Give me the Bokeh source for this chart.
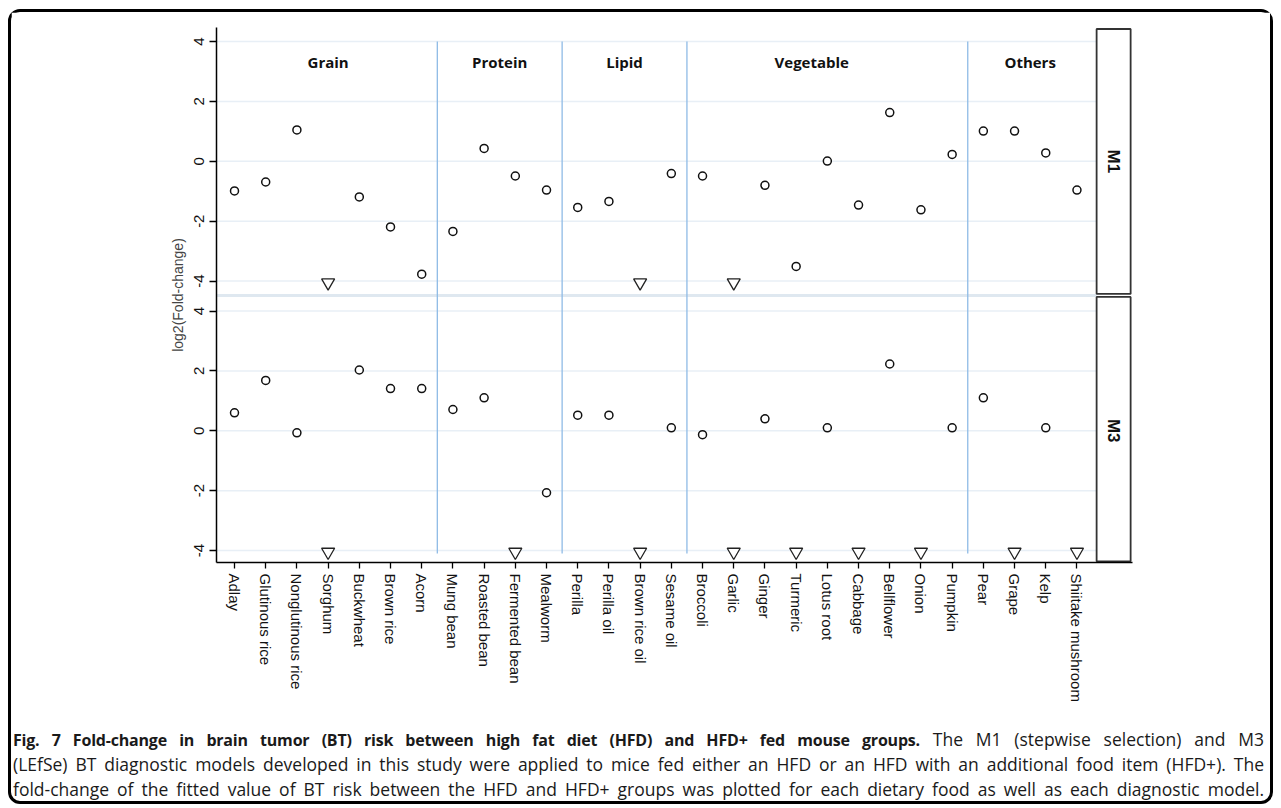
import numpy as np
from bokeh.plotting import figure
from bokeh.models import FixedTicker, Range1d, Div
from bokeh.layouts import column
from bokeh.core.properties import value
from bokeh.embed import file_html
from bokeh.resources import INLINE

# ---------------- data ----------------
foods = ["Adlay", "Glutinous rice", "Nonglutinous rice", "Sorghum", "Buckwheat", "Brown rice", "Acorn",
         "Mung bean", "Roasted bean", "Fermented bean", "Mealworm",
         "Perilla", "Perilla oil", "Brown rice oil", "Sesame oil",
         "Broccoli", "Garlic", "Ginger", "Turmeric", "Lotus root", "Cabbage", "Bellflower", "Onion", "Pumpkin",
         "Pear", "Grape", "Kelp", "Shiitake mushroom"]
groups = ["Grain", "Protein", "Lipid", "Vegetable", "Others"]
group_sizes = [7, 4, 4, 9, 4]
models = ["M1", "M3"]
# log2(fold-change); None = below the plotted range (drawn as a down-triangle at the floor)
m1_log2fc = [-0.99, -0.69, 1.05, None, -1.19, -2.19, -3.77,
             -2.34, 0.43, -0.49, -0.96,
             -1.54, -1.34, None, -0.41,
             -0.49, None, -0.80, -3.51, 0.01, -1.46, 1.63, -1.62, 0.23,
             1.01, 1.01, 0.28, -0.96]
m3_log2fc = [0.60, 1.68, -0.07, None, 2.03, 1.41, 1.41,
             0.71, 1.10, None, -2.07,
             0.52, 0.52, None, 0.10,
             -0.13, None, 0.40, None, 0.10, None, 2.23, None, 0.10,
             1.10, None, 0.10, None]
y_ticks = [-4, -2, 0, 2, 4]
floor_value = -4.05

caption_bold = "Fig. 7 Fold-change in brain tumor (BT) risk between high fat diet (HFD) and HFD+ fed mouse groups."
caption_lines = [
    " The M1 (stepwise selection) and M3",
    "(LEfSe) BT diagnostic models developed in this study were applied to mice fed either an HFD or an HFD with an additional food item (HFD+). The",
    "fold-change of the fitted value of BT risk between the HFD and HFD+ groups was plotted for each dietary food as well as each diagnostic model.",
]

# ---------------- layout constants ----------------
OFFSET = 9.0           # top panel (M1) is shifted up by this many units
X0, X1 = -0.577, 28.78
PANEL_R = 27.63        # right edge of the panels / left edge of strips
STRIP_R = 28.72
Y0, Y1 = -4.4, 13.47
FONT = "Liberation Sans"

W, H = 1259, 700
p = figure(width=W, height=H, x_range=Range1d(X0, X1), y_range=Range1d(Y0, Y1),
           output_backend="svg", toolbar_location=None,
           min_border_left=205, min_border_right=W - 205 - 916,
           min_border_top=15, min_border_bottom=H - 15 - 535,
           background_fill_color="white", border_fill_color="white")
p.outline_line_color = None
p.xgrid.visible = False
p.ygrid.visible = False

n = len(foods)
xs = list(range(n))
offsets = [OFFSET, 0.0]

# grid lines per panel
gx0, gx1, gy = [], [], []
for off in offsets:
    for t in y_ticks:
        gx0.append(X0); gx1.append(PANEL_R); gy.append(t + off)
p.segment(x0=gx0, y0=gy, x1=gx1, y1=gy, line_color="#e8eff6", line_width=1.5)

# band between panels
p.quad(left=[X0], right=[PANEL_R], bottom=[4.47], top=[4.57], fill_color="#dfe8f0", line_color=None)

# group separators
bounds = list(np.cumsum(group_sizes)[:-1] - 0.5)
p.segment(x0=bounds, y0=[4 + OFFSET] * len(bounds), x1=bounds, y1=[-4.1] * len(bounds),
          line_color="#8fbbe6", line_width=1.3)

# group labels
starts = np.concatenate([[0], np.cumsum(group_sizes)[:-1]])
centers = [s + (k - 1) / 2 for s, k in zip(starts, group_sizes)]
centers[3] -= 0.5
p.text(x=centers, y=[3.33 + OFFSET] * len(groups), text=groups, text_align="center",
       text_baseline="middle", text_font=value("Open Sans"), text_font_style="bold",
       text_font_size="15px", text_color="#111111")

# points
for vals, off in zip([m1_log2fc, m3_log2fc], offsets):
    cx = [x for x, v in zip(xs, vals) if v is not None]
    cy = [v + off for v in vals if v is not None]
    tx = [x for x, v in zip(xs, vals) if v is None]
    ty = [floor_value + off for v in vals if v is None]
    p.scatter(cx, cy, marker="circle", size=8, fill_color="white", line_color="#111111", line_width=1.5)
    p.scatter(tx, ty, marker="inverted_triangle", size=13, fill_color="white", line_color="#222222",
              line_width=1.3)

# strips
p.quad(left=[PANEL_R, PANEL_R], right=[STRIP_R, STRIP_R], top=[13.42, 4.47], bottom=[4.57, -4.36],
       fill_color="white", line_color="#333333", line_width=1.8)
p.text(x=[(PANEL_R + STRIP_R) / 2] * 2, y=[OFFSET, 0.0], text=models, angle=-np.pi / 2,
       text_align="center", text_baseline="middle", text_font=value(FONT), text_font_style="bold",
       text_font_size="17px", text_color="#111111")

# axes
p.xaxis.ticker = FixedTicker(ticks=xs)
p.xaxis.major_label_overrides = {i: f for i, f in enumerate(foods)}
p.xaxis.major_label_orientation = -np.pi / 2
p.xaxis.minor_tick_line_color = None
p.xaxis.major_tick_out = 6
p.xaxis.major_tick_in = 0
p.xaxis.major_label_standoff = 5
p.xaxis.axis_line_width = 1.5
p.xaxis.major_tick_line_width = 1.3
p.xaxis.major_label_text_font = FONT
p.xaxis.major_label_text_font_size = "15px"
p.xaxis.major_label_text_color = "#111111"

yt = [t + OFFSET for t in y_ticks] + y_ticks
p.yaxis.ticker = FixedTicker(ticks=yt)
overrides = {}
for t in y_ticks:
    overrides[t + OFFSET] = str(t)
    overrides[t] = str(t)
p.yaxis.major_label_overrides = overrides
p.yaxis.major_label_orientation = "vertical"
p.yaxis.minor_tick_line_color = None
p.yaxis.major_tick_out = 7
p.yaxis.major_tick_in = 0
p.yaxis.major_label_standoff = 5
p.yaxis.axis_line_width = 1.5
p.yaxis.major_tick_line_width = 1.3
p.yaxis.major_label_text_font = FONT
p.yaxis.major_label_text_font_size = "15px"
p.yaxis.major_label_text_color = "#111111"
p.yaxis.axis_label = "log2(Fold-change)"
p.yaxis.axis_label_text_font = FONT
p.yaxis.axis_label_text_font_style = "normal"
p.yaxis.axis_label_text_font_size = "14px"
p.yaxis.axis_label_standoff = 6

# caption
line_style = ("text-align: justify; text-align-last: justify; white-space: nowrap; "
              "height: 25px; line-height: 25px;")
html = ('<div style="font-family: \'Open Sans\'; font-size: 17.5px; color: #1a1a1a; '
        'width: 1255px; padding: 15px 2px 0 2px;">'
        f'<div style="{line_style}"><b style="font-size: 16px; letter-spacing: -0.2px;">{caption_bold}</b>'
        f'{caption_lines[0]}</div>'
        f'<div style="{line_style}">{caption_lines[1]}</div>'
        f'<div style="{line_style}">{caption_lines[2]}</div>'
        '</div>')
cap = Div(text=html, width=W, height=89, margin=0)

layout = column(p, cap, styles={"border": "3px solid #000000", "border-radius": "12px",
                                "background-color": "white", "margin": "9px 0 0 8px"})

open("out.html", "w").write(file_html(layout, INLINE))
